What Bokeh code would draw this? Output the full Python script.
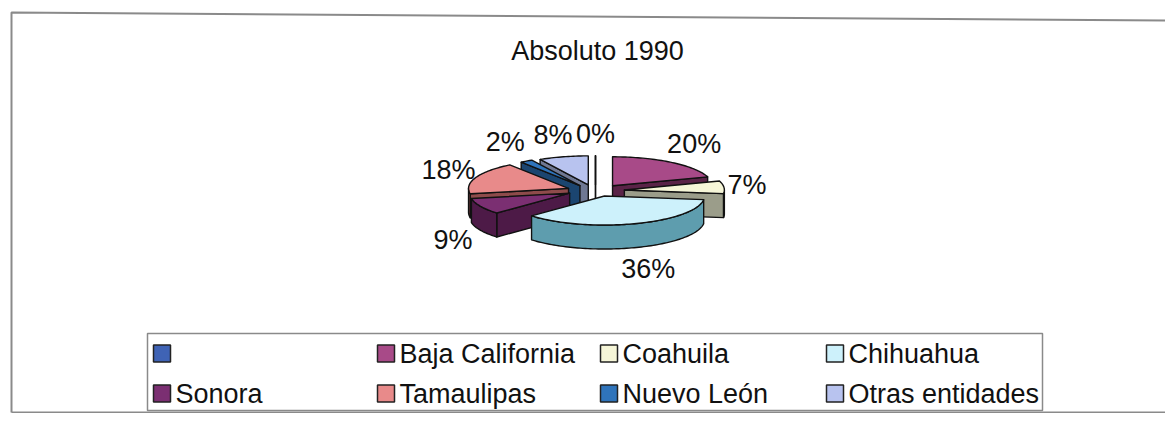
import numpy as np
from bokeh.plotting import figure
from bokeh.models import Range1d, Label
from bokeh.embed import file_html
from bokeh.resources import INLINE
from bokeh.core.properties import value

# ---------------- data ----------------
title = "Absoluto 1990"
categories = ["", "Baja California", "Coahuila", "Chihuahua",
              "Sonora", "Tamaulipas", "Nuevo León", "Otras entidades"]
values = [0, 20, 7, 36, 9, 18, 2, 8]
colors = ["#3f63b5", "#a84a88", "#f6f6d8", "#cdf1fb",
          "#7b2f72", "#e88a8a", "#2f74bb", "#b8c3ef"]
side_colors = ["#2a427a", "#5a2347", "#9b9d8a", "#5e9dae",
               "#4d1a47", "#8e4b4b", "#1b4570", "#6f7893"]

FONT = "Liberation Sans"
FS = "27px"

# ---------------- figure ----------------
W, H = 1165, 413
p = figure(width=W, height=H, x_range=Range1d(0, W), y_range=Range1d(H, 0),
           output_backend="svg", toolbar_location=None, min_border=0,
           x_axis_location=None, y_axis_location=None)
p.grid.visible = False
p.outline_line_color = None
p.background_fill_color = "white"

# outer frame (left, top, bottom)
p.line([11, 11, 1165], [412, 12, 20], line_color="#8a8a8a", line_width=2)
p.line([11, 1165], [412, 412], line_color="#8a8a8a", line_width=2)

# ---------------- 3D exploded pie ----------------
cx, cy, rx, ry, depth, explode, ky = 595, 190, 100, 29, 24, 29, 0.2
total = float(sum(values))
fracs = [v / total for v in values]
starts = np.concatenate([[0.0], np.cumsum(fracs)[:-1]]) * 360.0
ends = starts + np.array(fracs) * 360.0
mids = (starts + ends) / 2.0


def pt(t, ox, oy, dz=0.0):
    tr = np.radians(t)
    return cx + ox + rx * np.sin(tr), cy + oy - ry * np.cos(tr) + dz


def arc(a, b, ox, oy, dz=0.0):
    n = max(2, int(abs(b - a) / 1.5) + 2)
    ts = np.linspace(a, b, n)
    xs, ys = pt(ts, ox, oy, dz)
    return list(xs), list(ys)


faces_x, faces_y, faces_c = [], [], []
order = sorted(range(len(values)), key=lambda i: -np.cos(np.radians(mids[i])))
for i in order:
    a1, a2, m = starts[i], ends[i], mids[i]
    ox = explode * np.sin(np.radians(m))
    oy = -explode * ky * np.cos(np.radians(m))
    ax, ay = cx + ox, cy + oy
    # radial walls
    for a, vis in ((a1, np.sin(np.radians(a1)) < -1e-9), (a2, np.sin(np.radians(a2)) > 1e-9)):
        if vis or values[i] == 0:
            ex, ey = pt(a, ox, oy)
            faces_x.append([ax, ex, ex, ax])
            faces_y.append([ay, ey, ey + depth, ay + depth])
            faces_c.append(side_colors[i])
    # outer wall
    lo, hi = max(a1, 90.0), min(a2, 270.0)
    if hi > lo:
        tx, ty = arc(lo, hi, ox, oy)
        bx, by = arc(hi, lo, ox, oy, depth)
        faces_x.append(tx + bx)
        faces_y.append(ty + by)
        faces_c.append(side_colors[i])
    # top
    tx, ty = arc(a1, a2, ox, oy)
    faces_x.append([ax] + tx)
    faces_y.append([ay] + ty)
    faces_c.append(colors[i] if values[i] > 0 else "white")

p.patches(faces_x, faces_y, fill_color=faces_c, line_color="#111111",
          line_width=1.4, line_join="round")

# percentage labels
Ly = 57
lab_x, lab_y, lab_t = [], [], []
for i, v in enumerate(values):
    m = np.radians(mids[i])
    lab_x.append(cx + (150 + 22 * abs(np.cos(m))) * np.sin(m))
    lab_y.append(cy - Ly * np.cos(m) + (depth if np.cos(m) < 0 else 0))
    lab_t.append(f"{round(100 * v / total):.0f}%")
p.text(lab_x, lab_y, text=lab_t, text_align="center", text_baseline="middle",
       text_font=value(FONT), text_font_size=FS, text_color="#111111")

# title
p.add_layout(Label(x=597, y=50, text=title, text_align="center", text_baseline="middle",
                   text_font=FONT, text_font_size=FS, text_color="#111111"))

# ---------------- legend ----------------
p.quad(left=[147], right=[1042], top=[333], bottom=[410],
       fill_color="white", line_color="#8a8a8a", line_width=1.5)
col_x = [153, 377, 600, 826]
row_y = [353, 393]
sq = 17
leg_x = [col_x[k % 4] + sq / 2 for k in range(len(categories))]
leg_y = [row_y[k // 4] for k in range(len(categories))]
p.scatter(leg_x, leg_y, marker="square", size=sq, fill_color=colors,
          line_color="#222222", line_width=1.5)
p.text([x + sq / 2 + 5 for x in leg_x], leg_y, text=categories, text_align="left",
       text_baseline="middle", text_font=value(FONT), text_font_size=FS,
       text_color="#111111")

open("out.html", "w").write(file_html(p, INLINE))
